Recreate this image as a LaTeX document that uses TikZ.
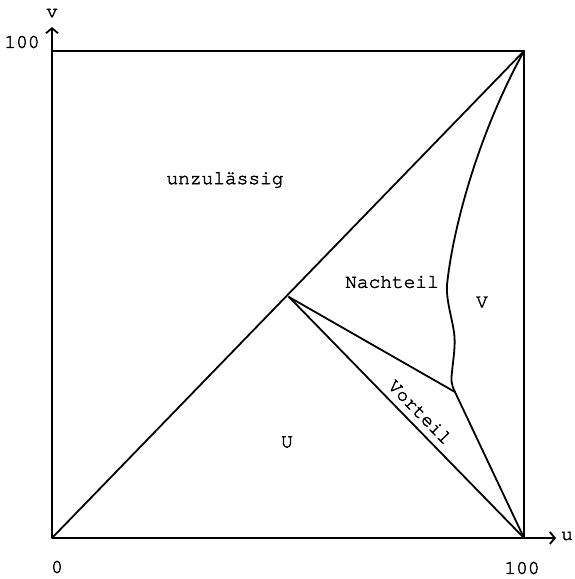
\documentclass[tikz,border=0pt]{standalone}
\usepackage{fontspec}
\newfontfamily\tw[FakeBold=2]{texgyrecursor-regular.otf}
\usetikzlibrary{arrows.meta}
\begin{document}
\begin{tikzpicture}[x=1pt,y=-1pt,
  ln/.style={line width=1.8pt, line cap=round, line join=round},
  ax/.style={line width=1.8pt, -{Straight Barb[length=5pt,width=12pt,line width=1.8pt]}},
  lbl/.style={font=\tw\fontsize{19.5}{22}\selectfont, inner sep=0pt}]
\useasboundingbox (0,0) rectangle (575,579);
% corners and points
\coordinate (O) at (52,538);
\coordinate (TL) at (52,51);
\coordinate (TR) at (524,51);
\coordinate (BR) at (524,538);
\coordinate (P) at (289,297);
\coordinate (Q) at (455,392);
\coordinate (vend) at (52,27);
\coordinate (uend) at (556,538);
% axes
\draw[ax] (O) -- (vend);
\draw[ax] (O) -- (uend);
% square
\draw[ln] (TL) -- (TR) -- (BR);
% diagonal
\draw[ln] (O) -- (TR);
% region lines
\draw[ln] (P) -- (BR);
\draw[ln] (P) -- (Q);
\draw[ln] (Q) -- (BR);
\draw[ln] (Q) .. controls (451,384) and (451,380) .. (452,372)
  .. controls (453,360) and (456,345) .. (454,332)
  .. controls (452,318) and (446,300) .. (447,285)
  .. controls (452,235) and (475,140) .. (TR);
% labels
\node[lbl] (vl) at (52,13) {v};
\node[lbl] (ul) at (567,536) {u};
\node[lbl] (v100) at (22,42) {100};
\node[lbl] (zero) at (57,567) {0};
\node[lbl] (u100) at (522,568) {100};
\node[lbl] (unz) at (225,180) {unzulässig};
\node[lbl] (nach) at (392,282) {Nachteil};
\node[lbl] (Vl) at (482,302) {V};
\node[lbl] (Ul) at (287,442) {U};
\node[lbl, rotate=-45.7] (vort) at (420,412) {Vorteil};
\end{tikzpicture}
\end{document}
